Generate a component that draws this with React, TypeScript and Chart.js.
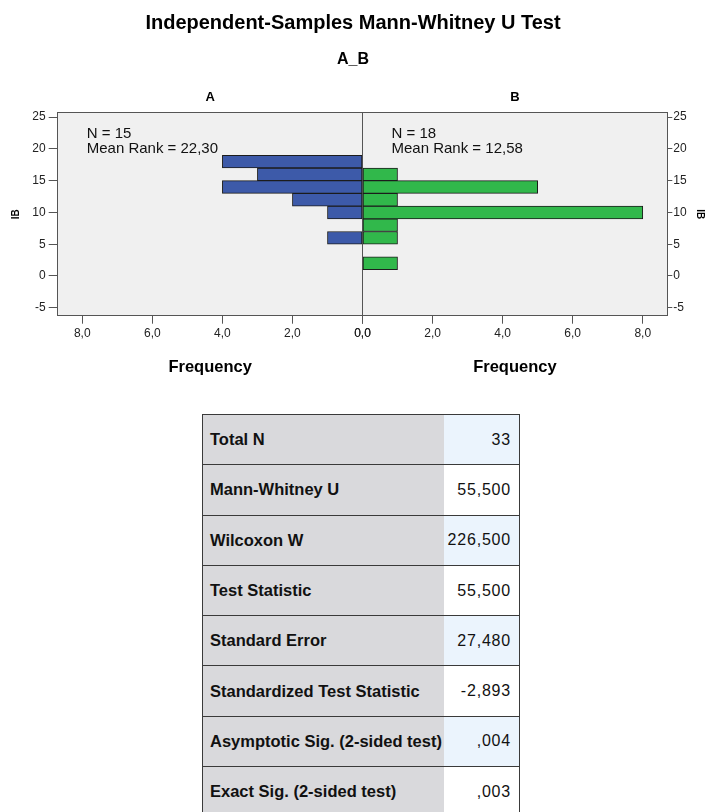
import { useEffect, useRef } from 'react'
import { Chart, registerables } from 'chart.js'

Chart.register(...registerables)

const FONT = '"Liberation Sans", Arial, sans-serif'

// histogram bins (width 2, centres) and counts per group
const binCenters = [2, 4, 6, 8, 10, 12, 14, 16, 18]
const countsA = [0, 0, 1, 0, 1, 2, 4, 3, 4]
const countsB = [1, 0, 1, 1, 8, 1, 5, 1, 0]

const groupNames = ['A', 'B']
const groupN = [15, 18]
const groupMeanRank = ['22,30', '12,58']

const statLabels = [
    'Total N',
    'Mann-Whitney U',
    'Wilcoxon W',
    'Test Statistic',
    'Standard Error',
    'Standardized Test Statistic',
    'Asymptotic Sig. (2-sided test)',
    'Exact Sig. (2-sided test)',
]
const statValues = ['33', '55,500', '226,500', '55,500', '27,480', '-2,893', ',004', ',003']

const AXIS = '#555'
const BLUE = '#3d5aa9'
const GREEN = '#31b84b'

const toPoints = (counts: number[]) =>
    binCenters.map((c, i) => ({ x: counts[i], y: c })).filter(p => p.x > 0)

const fmtFreq = (v: number | string) => Number(v).toFixed(1).replace('.', ',')

// grey panel background
const panelBg = {
    id: 'panelBg',
    beforeDraw(chart: Chart) {
        const { ctx, chartArea: a } = chart
        ctx.save()
        ctx.fillStyle = '#f0f0f0'
        ctx.fillRect(a.left, a.top, a.right - a.left, a.bottom - a.top)
        ctx.restore()
    },
}

// N / mean rank text in each panel
const groupText = {
    id: 'groupText',
    afterDatasetsDraw(chart: Chart) {
        const { ctx, chartArea: a } = chart
        const starts = [a.left + 29, chart.scales.xB.getPixelForValue(0) + 29]
        ctx.save()
        ctx.font = `15px ${FONT}`
        ctx.fillStyle = '#111'
        ctx.textBaseline = 'middle'
        starts.forEach((x, i) => {
            ctx.fillText(`N = ${groupN[i]}`, x, a.top + 21.5)
            ctx.fillText(`Mean Rank = ${groupMeanRank[i]}`, x, a.top + 36)
        })
        ctx.restore()
    },
}

function MannWhitneyChart() {
    const canvasRef = useRef<HTMLCanvasElement>(null)

    useEffect(() => {
        if (!canvasRef.current) return
        Chart.defaults.font.family = FONT

        const bottomAxis = (reverse: boolean, midLine: boolean) => ({
            type: 'linear' as const,
            position: 'bottom' as const,
            stack: 'bot',
            min: 0,
            max: 8.7,
            reverse,
            ticks: {
                stepSize: 2,
                includeBounds: false,
                maxRotation: 0,
                padding: 3,
                color: '#222',
                font: { size: 12 },
                callback: (v: number | string) => fmtFreq(v),
            },
            grid: {
                drawOnChartArea: midLine,
                color: (c: any) => (c.tick && c.tick.value === 0 ? AXIS : 'rgba(0,0,0,0)'),
                tickColor: AXIS,
                tickLength: 8,
            },
            border: { color: AXIS },
            title: {
                display: true,
                text: 'Frequency',
                color: '#000',
                font: { size: 16.5, weight: 'bold' as const },
                padding: { top: 0, bottom: 0 },
            },
            afterFit: (s: any) => { s.height = 62 },
        })

        const topAxis = (name: string, reverse: boolean) => ({
            type: 'linear' as const,
            position: 'top' as const,
            stack: 'top',
            min: 0,
            max: 8.7,
            reverse,
            ticks: { display: false },
            grid: { display: false, drawTicks: false },
            border: { display: true, color: AXIS },
            title: {
                display: true,
                text: name,
                color: '#000',
                font: { size: 13, weight: 'bold' as const },
                padding: { top: 4.7, bottom: 7.1 },
            },
        })

        const yAxis = (position: 'left' | 'right', tickLength: number, pad: number, titlePad: number, width: number) => ({
            type: 'linear' as const,
            position,
            offset: false,
            min: -6.25,
            max: 25.7,
            ticks: { stepSize: 5, includeBounds: false, padding: pad, color: '#222', font: { size: 12 } },
            grid: { offset: false, drawOnChartArea: false, tickColor: AXIS, tickLength },
            border: { color: AXIS },
            title: {
                display: true,
                text: 'IB',
                color: '#000',
                font: { size: 10, weight: 'bold' as const },
                padding: { top: titlePad, bottom: 0 },
            },
            afterFit: (s: any) => { s.width = width },
        })

        const chart = new Chart(canvasRef.current, {
            type: 'bar',
            data: {
                datasets: [
                    {
                        label: groupNames[0],
                        data: toPoints(countsA),
                        xAxisID: 'xA',
                        yAxisID: 'y',
                        backgroundColor: BLUE,
                        borderColor: '#1c1c1c',
                        borderWidth: 1,
                        borderSkipped: false,
                        grouped: false,
                        barPercentage: 1,
                        categoryPercentage: 1,
                    },
                    {
                        label: groupNames[1],
                        data: toPoints(countsB),
                        xAxisID: 'xB',
                        yAxisID: 'y',
                        backgroundColor: GREEN,
                        borderColor: '#1c1c1c',
                        borderWidth: 1,
                        borderSkipped: false,
                        grouped: false,
                        barPercentage: 1,
                        categoryPercentage: 1,
                    },
                ],
            },
            options: {
                indexAxis: 'y',
                animation: false,
                responsive: true,
                maintainAspectRatio: false,
                layout: { padding: { left: 0, right: 0, top: 0, bottom: 12.3 } },
                scales: {
                    // top boxes are laid out in reverse order of definition
                    xBt: topAxis(groupNames[1], false),
                    xAt: topAxis(groupNames[0], true),
                    xA: bottomAxis(true, false),
                    xB: bottomAxis(false, true),
                    y: yAxis('left', 9, 3, 10.5, 57.7),
                    y2: yAxis('right', 5, 1, 0, 38.7),
                } as any,
                plugins: {
                    legend: { display: false },
                    tooltip: { enabled: false },
                    title: {
                        display: true,
                        text: 'Independent-Samples Mann-Whitney U Test',
                        color: '#000',
                        font: { size: 20, weight: 'bold' },
                        padding: { top: 11, bottom: 15 },
                    },
                    subtitle: {
                        display: true,
                        text: 'A_B',
                        color: '#000',
                        font: { size: 16, weight: 'bold' },
                        padding: { top: 0.4, bottom: 15.7 },
                    },
                },
            },
            plugins: [panelBg, groupText],
        })

        return () => chart.destroy()
    }, [])

    return (
        <div style={{ position: 'absolute', left: 0, top: 0, width: 706, height: 390 }}>
            <canvas ref={canvasRef} style={{ display: 'block' }}></canvas>
        </div>
    )
}

function StatsTable() {
    const line = '1.5px solid #3a3a3a'
    return (
        <table
            style={{
                position: 'absolute',
                left: 202,
                top: 414,
                width: 317,
                borderCollapse: 'collapse',
                tableLayout: 'fixed',
                fontFamily: FONT,
                color: '#111',
            }}
        >
            <colgroup>
                <col style={{ width: 241 }} />
                <col style={{ width: 76 }} />
            </colgroup>
            <tbody>
                {statLabels.map((label, i) => (
                    <tr key={label} style={{ height: 50.3 }}>
                        <td
                            style={{
                                background: '#d9d9dc',
                                borderTop: line,
                                borderBottom: line,
                                borderLeft: line,
                                padding: '0 0 0 7px',
                                fontWeight: 700,
                                fontSize: 16.5,
                                whiteSpace: 'nowrap',
                            }}
                        >
                            {label}
                        </td>
                        <td
                            style={{
                                background: i % 2 === 0 ? '#ebf4fd' : '#ffffff',
                                borderTop: line,
                                borderBottom: line,
                                borderRight: line,
                                padding: '0 8px 0 0',
                                textAlign: 'right',
                                fontSize: 16,
                                letterSpacing: 0.8,
                                whiteSpace: 'nowrap',
                            }}
                        >
                            {statValues[i]}
                        </td>
                    </tr>
                ))}
            </tbody>
        </table>
    )
}

export default function App() {
    return (
        <div
            style={{
                position: 'fixed',
                left: 0,
                top: 0,
                width: 706,
                height: 812,
                overflow: 'hidden',
                background: '#fff',
            }}
        >
            <MannWhitneyChart />
            <StatsTable />
        </div>
    )
}
